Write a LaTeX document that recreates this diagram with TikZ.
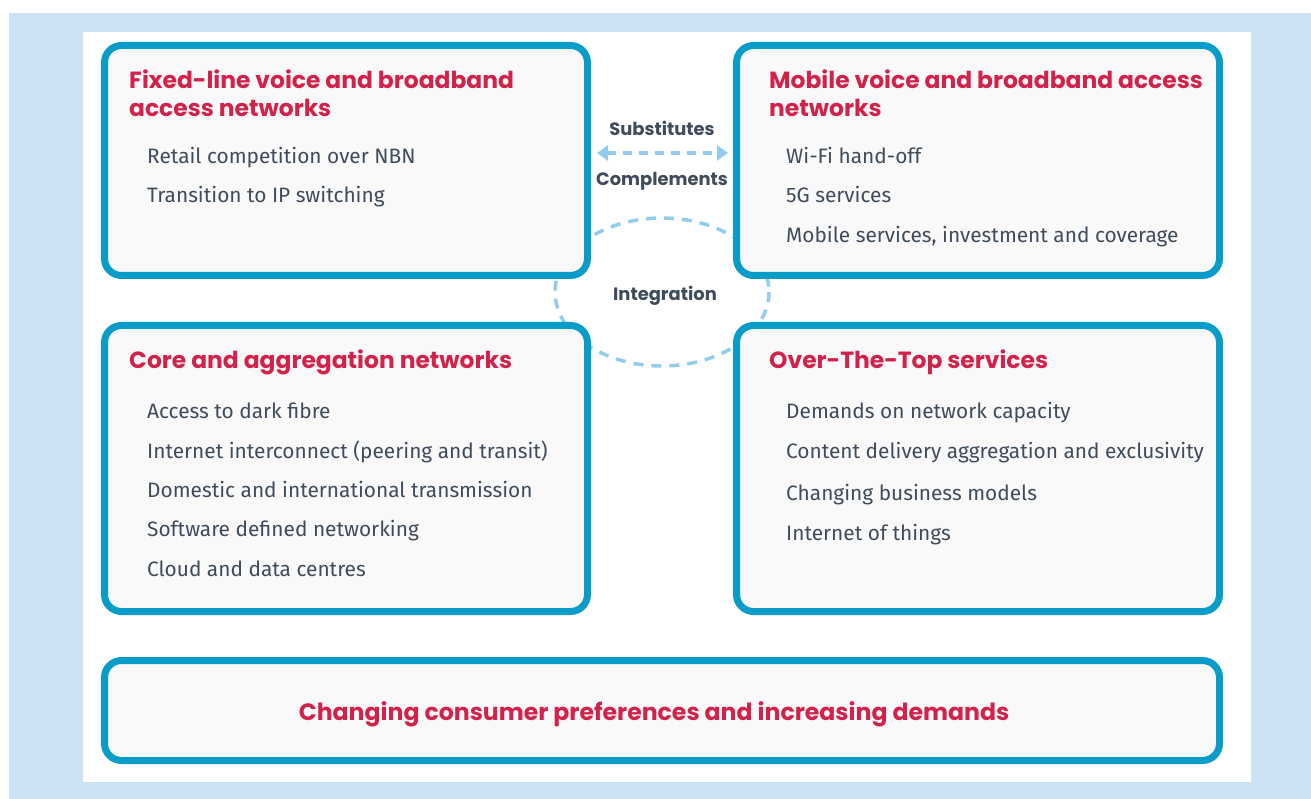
\documentclass[tikz,border=0pt]{standalone}
\usepackage{fontspec}
\setmainfont{Fira Sans}
\newfontfamily\titlefont{Poppins}
\usetikzlibrary{arrows.meta}
\definecolor{bgblue}{HTML}{CCE3F6}
\definecolor{boxline}{HTML}{0A9CC8}
\definecolor{boxfill}{HTML}{F9F9F9}
\definecolor{titlered}{HTML}{D2224A}
\definecolor{bodytext}{HTML}{3E4C5B}
\definecolor{dashblue}{HTML}{93CDEE}
\tikzset{
  panel/.style={draw=boxline, line width=7pt, fill=boxfill, rounded corners=17pt, inner sep=0pt},
  ttl/.style={anchor=base west, inner sep=0pt, text=titlered, font=\titlefont\bfseries\fontsize{23.4}{28}\selectfont},
  itm/.style={anchor=base west, inner sep=0pt, text=bodytext, font=\fontsize{20.85}{24}\selectfont},
  mid/.style={anchor=base, inner sep=0pt, text=bodytext, font=\titlefont\bfseries\fontsize{17.9}{20}\selectfont},
  dsh/.style={draw=dashblue, line width=3.5pt, dash pattern=on 10pt off 8pt},
}
\begin{document}
\begin{tikzpicture}[x=1pt,y=-1pt]
\useasboundingbox (0,0) rectangle (1311,799);
\fill[white] (0,0) rectangle (1311,799);
\fill[bgblue] (9,13) rectangle (1311,799);
\fill[white] (83,32) rectangle (1251,782);
% integration ellipse (behind boxes)
\draw[dsh] (662,292) ellipse [x radius=107, y radius=74];
% boxes
\node[panel, minimum width=483pt, minimum height=230pt] (TL) at (346,160.5) {};
\node[panel, minimum width=483pt, minimum height=230pt] (TR) at (978,160.5) {};
\node[panel, minimum width=483pt, minimum height=286pt] (ML) at (346,468.5) {};
\node[panel, minimum width=483pt, minimum height=286pt] (MR) at (978,468.5) {};
\node[panel, minimum width=1115pt, minimum height=100pt] (BT) at (662,710.5) {};
% arrow
\coordinate (aL) at (597,153);
\coordinate (aR) at (728,153);
\draw[dsh, {Triangle[width=15pt,length=11pt]}-{Triangle[width=15pt,length=11pt]}, dash pattern=on 9pt off 7pt] (aL) -- (aR);
% middle labels
\node[mid] (sub) at (662,136) {Substitutes};
\node[mid] (comp) at (662,186) {Complements};
\node[mid] (integ) at (665,301) {Integration};
% TL
\node[ttl] (t1a) at (129,89) {Fixed-line voice and broadband};
\node[ttl] (t1b) at (129,117) {access networks};
\node[itm] (i11) at (147,164) {Retail competition over NBN};
\node[itm] (i12) at (147,203) {Transition to IP switching};
% TR
\node[ttl] (t2a) at (769,89) {Mobile voice and broadband access};
\node[ttl] (t2b) at (769,117) {networks};
\node[itm] (i21) at (786,164) {Wi-Fi hand-off};
\node[itm] (i22) at (786,203) {5G services};
\node[itm] (i23) at (786,243) {Mobile services, investment and coverage};
% ML
\node[ttl] (t3) at (129,368) {Core and aggregation networks};
\node[itm] (i31) at (147,418) {Access to dark fibre};
\node[itm] (i32) at (147,458) {Internet interconnect (peering and transit)};
\node[itm] (i33) at (147,497) {Domestic and international transmission};
\node[itm] (i34) at (147,536) {Software defined networking};
\node[itm] (i35) at (147,576) {Cloud and data centres};
% MR
\node[ttl] (t4) at (769,368) {Over-The-Top services};
\node[itm] (i41) at (786,418) {Demands on network capacity};
\node[itm] (i42) at (786,458) {Content delivery aggregation and exclusivity};
\node[itm] (i43) at (786,500) {Changing business models};
\node[itm] (i44) at (786,540) {Internet of things};
% bottom
\node[ttl, anchor=base, font=\titlefont\bfseries\fontsize{23.6}{28}\selectfont] (t5) at (654,720) {Changing consumer preferences and increasing demands};
\end{tikzpicture}
\end{document}
